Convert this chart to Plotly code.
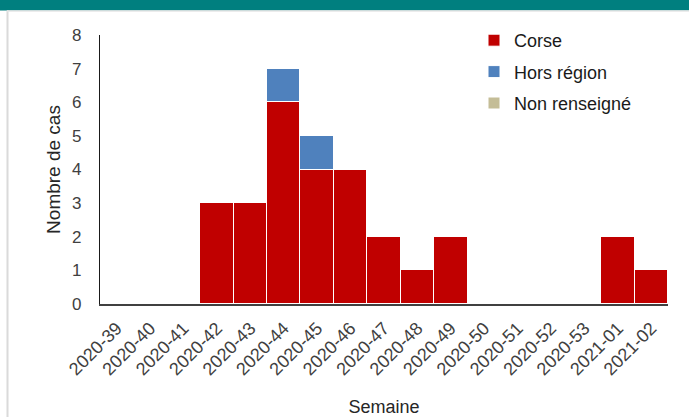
import plotly.graph_objects as go

semaines = ["2020-39", "2020-40", "2020-41", "2020-42", "2020-43", "2020-44", "2020-45",
            "2020-46", "2020-47", "2020-48", "2020-49", "2020-50", "2020-51", "2020-52",
            "2020-53", "2021-01", "2021-02"]
corse = [0, 0, 0, 3, 3, 6, 4, 4, 2, 1, 2, 0, 0, 0, 0, 2, 1]
hors_region = [0, 0, 0, 0, 0, 1, 1, 0, 0, 0, 0, 0, 0, 0, 0, 0, 0]
non_renseigne = [0, 0, 0, 0, 0, 0, 0, 0, 0, 0, 0, 0, 0, 0, 0, 0, 0]

W, H = 689, 417
L, R, T, B = 100, 21, 35, 113
pw, ph = W - L - R, H - T - B

def px(x):
    return (x - L) / pw

def py(y):
    return (H - B - y) / ph

font = "Liberation Sans, Arial, sans-serif"

fig = go.Figure()
for name, vals, col, grp in [("Corse", corse, "#C00000", "a"),
                             ("Hors région", hors_region, "#4F81BD", "b"),
                             ("Non renseigné", non_renseigne, "#C4BD97", "c")]:
    fig.add_trace(go.Bar(x=semaines, y=vals, name=name, legendgroup=grp,
                         marker=dict(color=col, line=dict(color="white", width=1))))

fig.update_layout(
    width=W, height=H,
    margin=dict(l=L, r=R, t=T, b=B, autoexpand=False),
    paper_bgcolor="white", plot_bgcolor="white",
    barmode="stack", bargap=0,
    font=dict(family=font, size=16, color="#262626"),
    legend=dict(x=px(474), y=py(22), xanchor="left", yanchor="top",
                bgcolor="rgba(0,0,0,0)", tracegroupgap=5, traceorder="grouped",
                font=dict(size=18, color="#1a1a1a")),
    xaxis=dict(type="category", tickangle=-45, showline=True, linecolor="#404040", linewidth=1.5,
               ticks="", tickfont=dict(size=18, color="#404040"), automargin=False,
               ticklabelstandoff=5,
               title=dict(text="Semaine", font=dict(size=18), standoff=22)),
    yaxis=dict(range=[0, 8], dtick=1, showgrid=False, showline=True, linecolor="#1a1a1a",
               linewidth=1.2, ticks="", zeroline=False, ticklabelstandoff=14, automargin=False,
               tickfont=dict(size=17, color="#404040"),
               title=dict(text="Nombre de cas", font=dict(size=19), standoff=6)),
    shapes=[
        dict(type="rect", xref="paper", yref="paper", x0=px(0), x1=px(W), y0=py(10.5), y1=py(0),
             fillcolor="#007F7F", line=dict(width=0), layer="below"),
        dict(type="line", xref="paper", yref="paper", x0=px(7.5), x1=px(7.5), y0=py(10.5), y1=py(H),
             line=dict(color="#DADADA", width=2), layer="below"),
        dict(type="line", xref="paper", yref="paper", x0=px(7), x1=px(W), y0=py(11), y1=py(11),
             line=dict(color="#E6E6E6", width=1.5), layer="below"),
    ],
)

fig.write_html("out.html", config={"displayModeBar": False},
               post_script="document.body.style.margin='0';document.body.style.overflow='hidden';")
